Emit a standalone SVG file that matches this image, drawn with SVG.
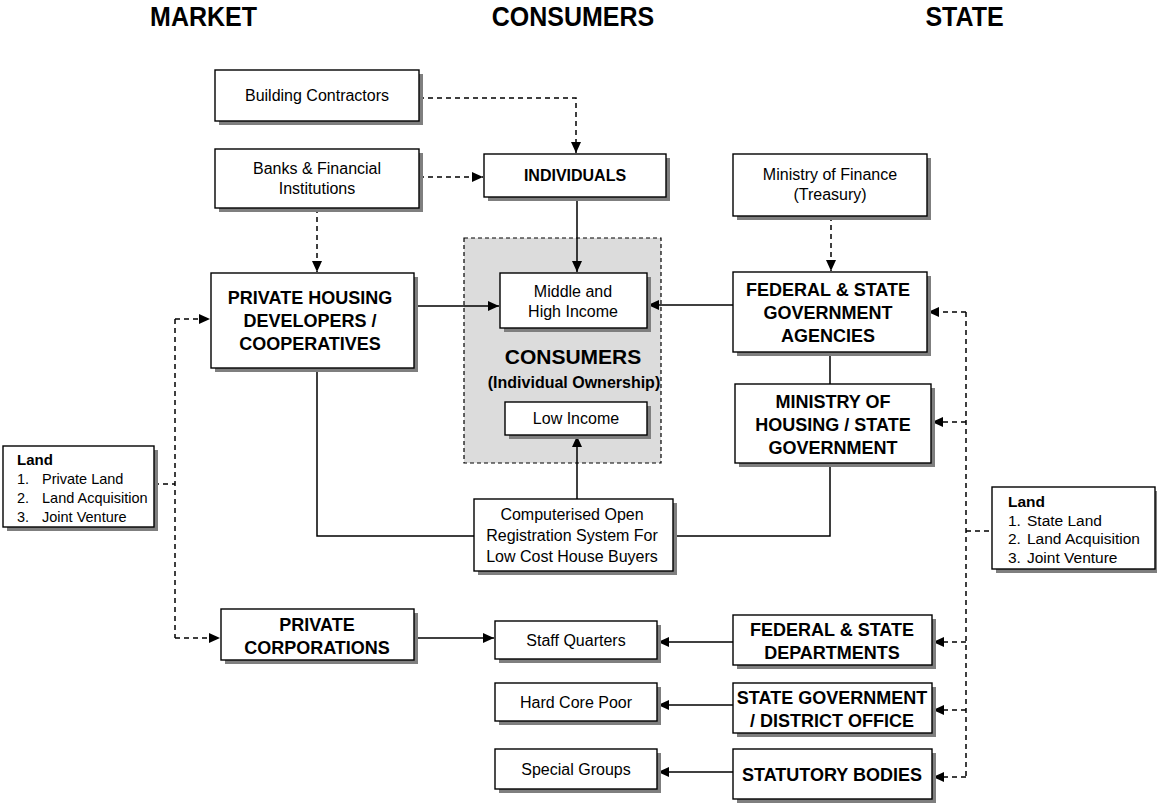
<svg xmlns="http://www.w3.org/2000/svg" width="1157" height="804" viewBox="0 0 1157 804">
<style>
text{font-family:"Liberation Sans",Arial,sans-serif;fill:#000}
.hd{font-size:25px;font-weight:bold;text-anchor:middle}
.r{font-size:16px;text-anchor:middle}
.b{font-size:18px;font-weight:bold;text-anchor:middle}
.box{fill:#fff;stroke:#000;stroke-width:1.4}
.sh{fill:#7f7f7f}
.ln{fill:none;stroke:#000;stroke-width:1.5}
.ds{fill:none;stroke:#000;stroke-width:1.5;stroke-dasharray:5,4}
.lt{font-size:14.5px}
.lt2{font-size:15.5px}
</style>
<defs>
<marker id="ah" markerUnits="userSpaceOnUse" markerWidth="12" markerHeight="11" refX="11" refY="5" orient="auto">
<path d="M0,0 L11,5 L0,10 z" fill="#000"/>
</marker>
</defs>
<rect width="1157" height="804" fill="#fff"/>
<g id="headers">
<text class="hd" transform="translate(203.5,26) scale(1,1.12)">MARKET</text>
<text class="hd" transform="translate(573,26) scale(1,1.12)">CONSUMERS</text>
<text class="hd" transform="translate(964.5,26) scale(1,1.12)">STATE</text>
</g>
<g id="consumers-region">
<rect x="464" y="238" width="197" height="225" fill="#dcdcdc" stroke="#000" stroke-width="1.2" stroke-dasharray="4,3"/>
<text x="573" y="364" style="font-size:21px;font-weight:bold;text-anchor:middle">CONSUMERS</text>
<text x="574" y="388" style="font-size:16px;font-weight:bold;text-anchor:middle">(Individual Ownership)</text>
</g>
<g id="connectors">
<polyline class="ds" points="419,98 576,98 576,153" marker-end="url(#ah)"/>
<line class="ds" x1="419" y1="177" x2="483" y2="177" marker-end="url(#ah)"/>
<line class="ds" x1="317" y1="208" x2="317" y2="272" marker-end="url(#ah)"/>
<line class="ln" x1="577" y1="197" x2="577" y2="272" marker-end="url(#ah)"/>
<line class="ln" x1="414" y1="306" x2="499" y2="306" marker-end="url(#ah)"/>
<line class="ln" x1="733" y1="305" x2="648" y2="305" marker-end="url(#ah)"/>
<line class="ds" x1="831" y1="216" x2="831" y2="271" marker-end="url(#ah)"/>
<line class="ln" x1="830" y1="352" x2="830" y2="384"/>
<polyline class="ln" points="317,368 317,536 474,536"/>
<polyline class="ln" points="830,463 830,536 673,536"/>
<line class="ln" x1="577" y1="499" x2="577" y2="436" marker-end="url(#ah)"/>
<line class="ln" x1="414" y1="638" x2="494" y2="638" marker-end="url(#ah)"/>
<line class="ln" x1="733" y1="642" x2="658" y2="642" marker-end="url(#ah)"/>
<line class="ln" x1="733" y1="705" x2="658" y2="705" marker-end="url(#ah)"/>
<line class="ln" x1="733" y1="772" x2="658" y2="772" marker-end="url(#ah)"/>
<line class="ds" x1="175" y1="319" x2="175" y2="638"/>
<line class="ds" x1="175" y1="319" x2="210" y2="319" marker-end="url(#ah)"/>
<line class="ds" x1="175" y1="638" x2="220" y2="638" marker-end="url(#ah)"/>
<line class="ds" x1="154" y1="484" x2="175" y2="484"/>
<line class="ds" x1="966" y1="312" x2="966" y2="777"/>
<line class="ds" x1="966" y1="312" x2="928" y2="312" marker-end="url(#ah)"/>
<line class="ds" x1="966" y1="422" x2="932" y2="422" marker-end="url(#ah)"/>
<line class="ds" x1="966" y1="642" x2="933" y2="642" marker-end="url(#ah)"/>
<line class="ds" x1="966" y1="710" x2="933" y2="710" marker-end="url(#ah)"/>
<line class="ds" x1="966" y1="777" x2="933" y2="777" marker-end="url(#ah)"/>
<line class="ds" x1="966" y1="531" x2="992" y2="531"/>
</g>
<g id="building-contractors">
<rect class="sh" x="219" y="74" width="204" height="51"/>
<rect class="box" x="215" y="70" width="204" height="51"/>
<text class="r" x="317" y="101">Building Contractors</text>
</g>
<g id="banks">
<rect class="sh" x="219" y="153" width="204" height="59"/>
<rect class="box" x="215" y="149" width="204" height="59"/>
<text class="r" x="317" y="174">Banks &amp; Financial</text>
<text class="r" x="317" y="194">Institutions</text>
</g>
<g id="individuals">
<rect class="sh" x="488" y="158" width="182" height="43"/>
<rect class="box" x="484" y="154" width="182" height="43"/>
<text class="r" x="575" y="181" style="font-weight:bold">INDIVIDUALS</text>
</g>
<g id="ministry-finance">
<rect class="sh" x="737" y="158" width="194" height="62"/>
<rect class="box" x="733" y="154" width="194" height="62"/>
<text class="r" x="830" y="180">Ministry of Finance</text>
<text class="r" x="830" y="200">(Treasury)</text>
</g>
<g id="private-housing">
<rect class="sh" x="215" y="277" width="203" height="95"/>
<rect class="box" x="211" y="273" width="203" height="95"/>
<text class="b" x="310" y="304">PRIVATE HOUSING</text>
<text class="b" x="310" y="327">DEVELOPERS /</text>
<text class="b" x="310" y="350">COOPERATIVES</text>
</g>
<g id="middle-high">
<rect class="sh" x="504" y="277" width="147" height="55"/>
<rect class="box" x="500" y="273" width="147" height="55"/>
<text class="r" x="573" y="297">Middle and</text>
<text class="r" x="573" y="317">High Income</text>
</g>
<g id="low-income">
<rect class="sh" x="509" y="406" width="142" height="33"/>
<rect class="box" x="505" y="402" width="142" height="33"/>
<text class="r" x="576" y="424">Low Income</text>
</g>
<g id="fed-state-agencies">
<rect class="sh" x="737" y="276" width="194" height="80"/>
<rect class="box" x="733" y="272" width="194" height="80"/>
<text class="b" x="828" y="296">FEDERAL &amp; STATE</text>
<text class="b" x="828" y="319">GOVERNMENT</text>
<text class="b" x="828" y="342">AGENCIES</text>
</g>
<g id="ministry-housing">
<rect class="sh" x="739" y="388" width="196" height="79"/>
<rect class="box" x="735" y="384" width="196" height="79"/>
<text class="b" x="833" y="408">MINISTRY OF</text>
<text class="b" x="833" y="431">HOUSING / STATE</text>
<text class="b" x="833" y="454">GOVERNMENT</text>
</g>
<g id="registration-system">
<rect class="sh" x="478" y="503" width="199" height="72"/>
<rect class="box" x="474" y="499" width="199" height="72"/>
<text class="r" x="572" y="520">Computerised Open</text>
<text class="r" x="572" y="541">Registration System For</text>
<text class="r" x="572" y="562">Low Cost House Buyers</text>
</g>
<g id="land-market">
<rect class="sh" x="7" y="450" width="151" height="81"/>
<rect class="box" x="3" y="446" width="151" height="81"/>
<text x="17" y="465" style="font-size:15px;font-weight:bold">Land</text>
<text class="lt" x="17" y="484">1.</text><text class="lt" x="42" y="484">Private Land</text>
<text class="lt" x="17" y="503">2.</text><text class="lt" x="42" y="503">Land Acquisition</text>
<text class="lt" x="17" y="522">3.</text><text class="lt" x="42" y="522">Joint Venture</text>
</g>
<g id="land-state">
<rect class="sh" x="996" y="491" width="163" height="82"/>
<rect class="box" x="992" y="487" width="163" height="82"/>
<text x="1008" y="507" style="font-size:15.5px;font-weight:bold">Land</text>
<text class="lt2" x="1008" y="526">1.</text><text class="lt2" x="1027" y="526">State Land</text>
<text class="lt2" x="1008" y="544">2.</text><text class="lt2" x="1027" y="544">Land Acquisition</text>
<text class="lt2" x="1008" y="563">3.</text><text class="lt2" x="1027" y="563">Joint Venture</text>
</g>
<g id="private-corporations">
<rect class="sh" x="225" y="613" width="193" height="51"/>
<rect class="box" x="221" y="609" width="193" height="51"/>
<text class="b" x="317" y="631">PRIVATE</text>
<text class="b" x="317" y="654">CORPORATIONS</text>
</g>
<g id="staff-quarters">
<rect class="sh" x="499" y="625" width="162" height="38"/>
<rect class="box" x="495" y="621" width="162" height="38"/>
<text class="r" x="576" y="646">Staff Quarters</text>
</g>
<g id="fed-state-departments">
<rect class="sh" x="737" y="619" width="199" height="50"/>
<rect class="box" x="733" y="615" width="199" height="50"/>
<text class="b" x="832" y="636">FEDERAL &amp; STATE</text>
<text class="b" x="832" y="659">DEPARTMENTS</text>
</g>
<g id="hard-core-poor">
<rect class="sh" x="499" y="687" width="162" height="38"/>
<rect class="box" x="495" y="683" width="162" height="38"/>
<text class="r" x="576" y="708">Hard Core Poor</text>
</g>
<g id="state-gov-district">
<rect class="sh" x="737" y="687" width="199" height="50"/>
<rect class="box" x="733" y="683" width="199" height="50"/>
<text class="b" x="832" y="704">STATE GOVERNMENT</text>
<text class="b" x="832" y="727">/ DISTRICT OFFICE</text>
</g>
<g id="special-groups">
<rect class="sh" x="499" y="753" width="162" height="40"/>
<rect class="box" x="495" y="749" width="162" height="40"/>
<text class="r" x="576" y="775">Special Groups</text>
</g>
<g id="statutory-bodies">
<rect class="sh" x="737" y="753" width="199" height="50"/>
<rect class="box" x="733" y="749" width="199" height="50"/>
<text class="b" x="832" y="781">STATUTORY BODIES</text>
</g>
</svg>
